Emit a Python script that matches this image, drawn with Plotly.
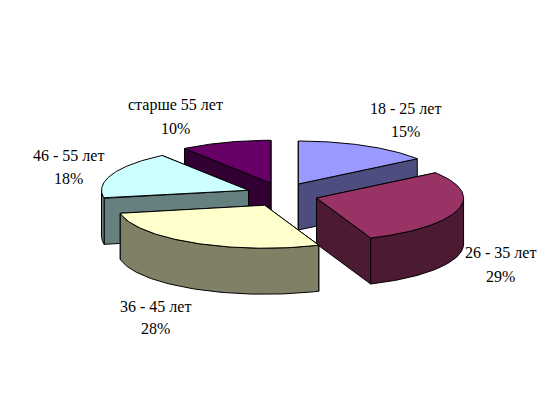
import numpy as np
import plotly.graph_objects as go

# Data
categories = ["18 - 25 лет", "26 - 35 лет", "36 - 45 лет", "46 - 55 лет", "старше 55 лет"]
values = [15, 29, 28, 18, 10]

# Style
top_colors = ["#9999FF", "#993366", "#FFFFCC", "#CCFFFF", "#660066"]
wall_colors = ["#4D4D80", "#4D1A33", "#808066", "#668080", "#330033"]
draw_order = [4, 0, 3, 1, 2]
label_pos = [(405, 108, 131), (500, 252, 276), (155, 306, 328), (68, 155, 178), (175, 105, 128)]

# Projection of the tilted, exploded pie into the 542x415 canvas
CX, CY, RX, RY, DEPTH, EX, EY = 282, 194.7, 147, 43, 46, 36, 12

fracs = np.array(values) / sum(values)
ends = np.cumsum(fracs) * 360
starts = ends - fracs * 360


def project(apex, deg):
    t = np.radians(deg)
    return apex[0] + RX * np.sin(t), apex[1] - RY * np.cos(t)


def poly(fig, xs, ys, color):
    fig.add_trace(go.Scatter(
        x=list(xs) + [xs[0]], y=list(ys) + [ys[0]], mode="lines", fill="toself",
        fillcolor=color, line=dict(color="black", width=1), hoverinfo="skip", showlegend=False))


fig = go.Figure()
for i in draw_order:
    s, e = starts[i], ends[i]
    mid = np.radians((s + e) / 2)
    apex = (CX + EX * np.sin(mid), CY - EY * np.cos(mid))
    wall = wall_colors[i]
    # radial walls, the one lying further back first
    for deg in sorted((s, e), key=lambda d: project(apex, d)[1]):
        px, py = project(apex, deg)
        poly(fig, [apex[0], px, px, apex[0]], [apex[1], py, py + DEPTH, apex[1] + DEPTH], wall)
    # outer front wall
    lo, hi = max(s, 90), min(e, 270)
    if hi > lo:
        a = np.linspace(lo, hi, 60)
        ax, ay = project(apex, a)
        poly(fig, list(ax) + list(ax[::-1]), list(ay) + list(ay[::-1] + DEPTH), wall)
    # top face
    a = np.linspace(s, e, 80)
    ax, ay = project(apex, a)
    poly(fig, [apex[0]] + list(ax), [apex[1]] + list(ay), top_colors[i])

font = dict(family="Liberation Serif, Times New Roman, serif", size=16, color="black")
for name, v, (x, y1, y2) in zip(categories, values, label_pos):
    fig.add_annotation(x=x, y=y1, text=name, showarrow=False, font=font)
    fig.add_annotation(x=x, y=y2, text=f"{v}%", showarrow=False, font=font)

fig.update_layout(
    width=542, height=415, margin=dict(l=0, r=0, t=0, b=0),
    paper_bgcolor="white", plot_bgcolor="white", showlegend=False,
    xaxis=dict(visible=False, range=[0, 542], fixedrange=True),
    yaxis=dict(visible=False, range=[415, 0], fixedrange=True),
)
fig.write_html("out.html", post_script="document.body.style.margin='0';", config={"displayModeBar": False})
